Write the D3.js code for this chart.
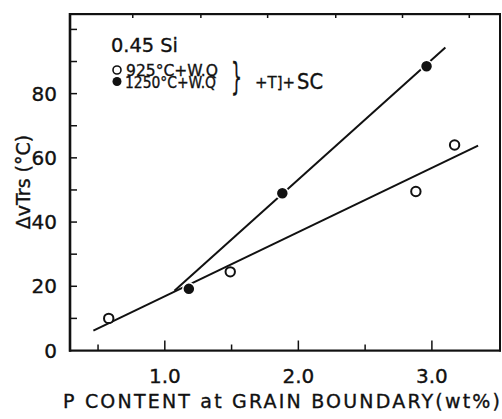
<!DOCTYPE html>
<html>
<head>
<meta charset="utf-8">
<script src="https://cdn.jsdelivr.net/npm/d3@7"></script>
<style>
  html, body { margin: 0; padding: 0; background: #fff; overflow: hidden; }
  svg { display: block; }
  text { font-family: "DejaVu Sans", sans-serif; fill: #111; stroke: #111; stroke-width: 0.35px; }
</style>
</head>
<body>
<svg id="chart" width="502" height="419"></svg>
<script>
// 925C + W.Q (open circles)
var openX = [0.58, 1.49, 2.88, 3.17]
var openY = [10, 24.5, 49.5, 64]
// 1250C + W.Q (filled circles)
var filledX = [1.18, 1.88, 2.96]
var filledY = [19.2, 49, 88.5]
// fitted lines, end points
var openLineX = [0.465, 3.346]
var openLineY = [6.2, 63.8]
var filledLineX = [1.072, 3.101]
var filledLineY = [18.6, 94.4]

var xTickMajor = [1.0, 2.0, 3.0]
var xTickMinor = [0.5, 1.5, 2.5]
var xTickTop = [0.76, 1.27, 1.77, 2.28, 2.78, 3.28]
var yTickLabels = [0, 20, 40, 60, 80]
var yTicks = [10, 20, 30, 40, 50, 60, 70, 80, 90, 100]

var svg = d3.select("#chart")
var margin = {left: 70, right: 2, top: 14, bottom: 68.5}
var width = +svg.attr("width"), height = +svg.attr("height")

x = d3.scaleLinear()
  .domain([0.29, 3.51])
  .range([margin.left, width - margin.right])
y = d3.scaleLinear()
  .domain([0, 104.8])
  .range([height - margin.bottom, margin.top])

var xl = x.range()[0], xr = x.range()[1]
var yb = y.range()[0], yt = y.range()[1]

// frame box, as thin filled rects
var frameRects = [
  [xl - 1, yt - 1, xr - xl + 2, 2.2],
  [xl - 1, yb - 1, xr - xl + 2, 2.2],
  [xr - 1, yt - 1, 2, yb - yt + 2],
  [xl - 1.3, yt - 1, 2.6, yb - yt + 2.2]
]
svg.selectAll(".frame").data(frameRects).enter().append("rect")
  .attr("x", d => d[0]).attr("y", d => d[1])
  .attr("width", d => d[2]).attr("height", d => d[3])
  .attr("fill", "#111")

// inward ticks
svg.selectAll(".ytick").data(yTicks).enter().append("line")
  .attr("x1", xl).attr("x2", xl + 7)
  .attr("y1", d => y(d)).attr("y2", d => y(d))
  .attr("stroke", "#111").attr("stroke-width", 1.5)
svg.selectAll(".xmaj").data(xTickMajor).enter().append("line")
  .attr("x1", d => x(d)).attr("x2", d => x(d))
  .attr("y1", yb).attr("y2", yb - 10)
  .attr("stroke", "#111").attr("stroke-width", 1.5)
svg.selectAll(".xmin").data(xTickMinor).enter().append("line")
  .attr("x1", d => x(d)).attr("x2", d => x(d))
  .attr("y1", yb).attr("y2", yb - 6)
  .attr("stroke", "#111").attr("stroke-width", 1.5)
svg.selectAll(".xtop").data(xTickTop).enter().append("line")
  .attr("x1", d => x(d)).attr("x2", d => x(d))
  .attr("y1", yt).attr("y2", yt + 4)
  .attr("stroke", "#111").attr("stroke-width", 1.5)

// tick labels
svg.selectAll(".ylab").data(yTickLabels).enter().append("text")
  .attr("x", 57).attr("y", d => y(d) + 7)
  .attr("text-anchor", "end")
  .style("font-size", "20px")
  .text(d => d)
svg.selectAll(".xlab").data(xTickMajor).enter().append("text")
  .attr("x", d => x(d)).attr("y", 383)
  .attr("text-anchor", "middle")
  .style("font-size", "20px")
  .text(d => d.toFixed(1))

// axis titles
svg.append("text")
  .attr("x", 63).attr("y", 408)
  .attr("textLength", 437).attr("lengthAdjust", "spacing")
  .style("font-size", "19px")
  .text("P CONTENT at GRAIN BOUNDARY(wt%)")
svg.append("text")
  .attr("transform", "translate(30,182) rotate(-90)")
  .attr("text-anchor", "middle")
  .style("font-size", "19px")
  .text("\u0394vTrs (\u00b0C)")

// fit lines
var line = d3.line().x(d => x(d[0])).y(d => y(d[1]))
svg.append("path")
  .datum(d3.zip(openLineX, openLineY))
  .attr("d", line).attr("fill", "none")
  .attr("stroke", "#111").attr("stroke-width", 2)
svg.append("path")
  .datum(d3.zip(filledLineX, filledLineY))
  .attr("d", line).attr("fill", "none")
  .attr("stroke", "#111").attr("stroke-width", 2)

// points
svg.selectAll(".open").data(d3.zip(openX, openY)).enter().append("circle")
  .attr("cx", d => x(d[0])).attr("cy", d => y(d[1])).attr("r", 4.7)
  .attr("fill", "#fff").attr("stroke", "#111").attr("stroke-width", 2)
svg.selectAll(".filled").data(d3.zip(filledX, filledY)).enter().append("circle")
  .attr("cx", d => x(d[0])).attr("cy", d => y(d[1])).attr("r", 6)
  .attr("fill", "#111").attr("stroke", "#fff").attr("stroke-width", 1.5)

// legend
svg.append("text")
  .attr("x", 111).attr("y", 52)
  .attr("textLength", 67).attr("lengthAdjust", "spacingAndGlyphs")
  .style("font-size", "20px")
  .text("0.45 Si")
svg.append("circle")
  .attr("cx", 117).attr("cy", 70).attr("r", 4)
  .attr("fill", "#fff").attr("stroke", "#111").attr("stroke-width", 1.6)
svg.append("circle")
  .attr("cx", 117).attr("cy", 81.5).attr("r", 4.5)
  .attr("fill", "#111")
svg.append("text")
  .attr("x", 126).attr("y", 75.5)
  .attr("textLength", 92).attr("lengthAdjust", "spacingAndGlyphs")
  .style("font-size", "16px")
  .text("925\u00b0C+W.Q")
svg.append("text")
  .attr("x", 125).attr("y", 87.5)
  .attr("textLength", 91).attr("lengthAdjust", "spacingAndGlyphs")
  .style("font-size", "16px")
  .text("1250\u00b0C+W.Q")
svg.append("text")
  .attr("x", 231).attr("y", 89)
  .attr("textLength", 11).attr("lengthAdjust", "spacingAndGlyphs")
  .style("font-size", "38px")
  .text("}")
svg.append("text")
  .attr("x", 255).attr("y", 88)
  .attr("textLength", 40).attr("lengthAdjust", "spacingAndGlyphs")
  .style("font-size", "16px")
  .text("+T]+")
svg.append("text")
  .attr("x", 297).attr("y", 88.5)
  .attr("textLength", 26).attr("lengthAdjust", "spacingAndGlyphs")
  .style("font-size", "21px")
  .text("SC")
</script>
</body>
</html>
